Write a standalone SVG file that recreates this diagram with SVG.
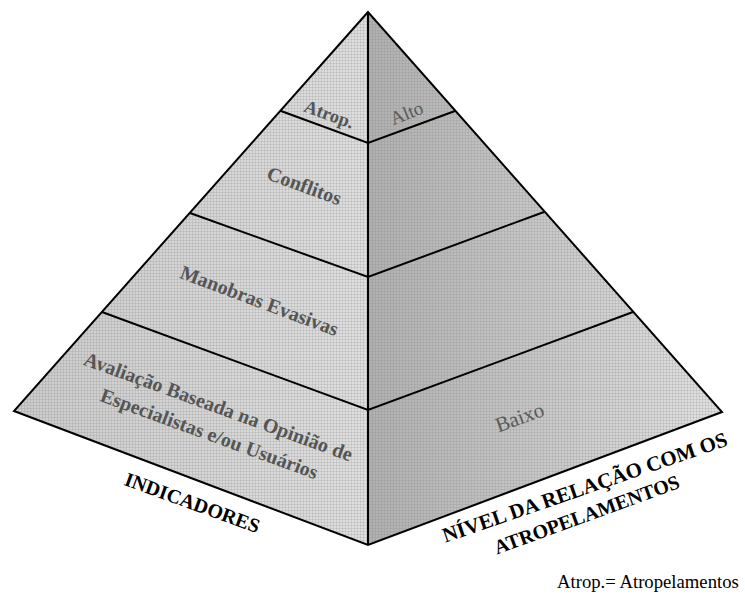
<svg xmlns="http://www.w3.org/2000/svg" width="745" height="596" viewBox="0 0 745 596">
<defs>
<linearGradient id="gl" gradientUnits="userSpaceOnUse" x1="14" y1="0" x2="368" y2="0">
<stop offset="0" stop-color="#cbcbcb"/><stop offset="1" stop-color="#dfdfdf"/>
</linearGradient>
<linearGradient id="gr" gradientUnits="userSpaceOnUse" x1="368" y1="0" x2="722" y2="0">
<stop offset="0" stop-color="#b0b0b0"/><stop offset="1" stop-color="#e2e2e2"/>
</linearGradient>
<pattern id="grid" width="3" height="3" patternUnits="userSpaceOnUse">
<path d="M0,0.5 H3 M0.5,0 V3" stroke="#808080" stroke-width="1" stroke-opacity="0.2" fill="none"/>
</pattern>
</defs>
<style>
.edge{fill:none;stroke:#000;stroke-width:2;stroke-linejoin:miter}
.lb{font-family:"Liberation Serif","Times New Roman",serif;font-weight:bold;fill:#555;text-anchor:middle}
.lr{font-family:"Liberation Serif","Times New Roman",serif;fill:#5a5a5a;text-anchor:middle}
.ax{font-family:"Liberation Serif","Times New Roman",serif;font-weight:bold;fill:#000;text-anchor:middle}
</style>
<rect width="745" height="596" fill="#fff"/>
<g id="faces">
<polygon points="368,12 14,411 368,545" fill="url(#gl)"/>
<polygon points="368,12 368,545 722,412" fill="url(#gr)"/>
<polygon points="368,12 14,411 368,545 722,412" fill="url(#grid)"/>
</g>
<g id="connectors">
<path class="edge" d="M368,12 L14,411 L368,545 L722,412 Z"/>
<path class="edge" d="M368,12 L368,545"/>
<path class="edge" d="M281,111 L368,143 L455,111"/>
<path class="edge" d="M190,213 L368,277 L544,212"/>
<path class="edge" d="M102,312 L368,410 L633,312"/>
</g>
<g id="layer-atrop">
<text class="lb" x="327" y="120" font-size="18.5" transform="rotate(20 327 120)">Atrop.</text>
<text class="lr" x="409" y="119" font-size="19" transform="rotate(-22 409 119)">Alto</text>
</g>
<g id="layer-conflitos">
<text class="lb" x="302" y="192" font-size="20" transform="rotate(20 302 192)">Conflitos</text>
</g>
<g id="layer-manobras">
<text class="lb" x="257" y="307" font-size="20" transform="rotate(20.5 257 307)">Manobras Evasivas</text>
</g>
<g id="layer-avaliacao">
<text class="lb" x="216" y="413" font-size="20" transform="rotate(20 216 413)">Avaliação Baseada na Opinião de</text>
<text class="lb" x="207" y="440" font-size="20" transform="rotate(20 207 440)">Especialistas e/ou Usuários</text>
<text class="lr" x="522" y="424" font-size="21" transform="rotate(-20 522 424)">Baixo</text>
</g>
<g id="axis-indicadores">
<text class="ax" x="190" y="509" font-size="20" transform="rotate(20 190 509)">INDICADORES</text>
</g>
<g id="axis-nivel">
<text class="ax" x="587" y="494" font-size="21" transform="rotate(-19 587 494)">NÍVEL DA RELAÇÃO COM OS</text>
<text class="ax" x="589" y="521" font-size="20" transform="rotate(-20 589 521)">ATROPELAMENTOS</text>
</g>
<g id="legend">
<text x="557" y="588" font-size="18.7" font-family="'Liberation Serif','Times New Roman',serif" fill="#000">Atrop.= Atropelamentos</text>
</g>
</svg>
